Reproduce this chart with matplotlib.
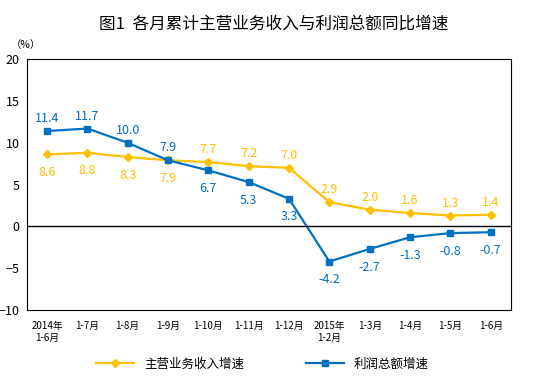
import matplotlib
matplotlib.use('Agg')
import matplotlib.pyplot as plt

plt.rcParams['font.family'] = ['Noto Sans CJK SC', 'DejaVu Sans']

# data
months = ['2014年\n1-6月', '1-7月', '1-8月', '1-9月', '1-10月', '1-11月', '1-12月',
          '2015年\n1-2月', '1-3月', '1-4月', '1-5月', '1-6月']
revenue = [8.6, 8.8, 8.3, 7.9, 7.7, 7.2, 7.0, 2.9, 2.0, 1.6, 1.3, 1.4]
profit = [11.4, 11.7, 10.0, 7.9, 6.7, 5.3, 3.3, -4.2, -2.7, -1.3, -0.8, -0.7]
rev_above = [False, False, False, False, True, True, True, True, True, True, True, True]
prof_above = [True, True, True, True, False, False, False, False, False, False, False, False]

yellow = '#FFC000'
blue = '#0070C0'

fig = plt.figure(figsize=(5.47, 3.79), dpi=100)
ax = fig.add_axes([0.049, 0.182, 0.885, 0.662])

x = list(range(len(months)))
ax.plot(x, revenue, color=yellow, lw=1.6, marker='D', ms=4.5, label='主营业务收入增速')
ax.plot(x, profit, color=blue, lw=1.6, marker='s', ms=4.5, label='利润总额增速')

for i in x:
    off = 9 if rev_above[i] else -13
    ax.annotate(f'{revenue[i]:.1f}', (i, revenue[i]), xytext=(0, off), textcoords='offset points',
                ha='center', va='center', color=yellow, fontsize=9)
    off = 9 if prof_above[i] else -13
    ax.annotate(f'{profit[i]:.1f}', (i, profit[i]), xytext=(0, off), textcoords='offset points',
                ha='center', va='center', color=blue, fontsize=9)

ax.axhline(0, color='black', lw=1)
ax.set_xlim(-0.5, len(months) - 0.5)
ax.set_ylim(-10, 20)
ax.set_yticks(range(-10, 21, 5))
ax.set_xticks(x)
ax.set_xticklabels(months, fontsize=7)
ax.tick_params(axis='both', length=0)
ax.tick_params(axis='x', pad=8)
ax.tick_params(axis='y', labelsize=9, pad=5)
for s in ax.spines.values():
    s.set_linewidth(0.8)

fig.text(0.5, 0.935, '图1  各月累计主营业务收入与利润总额同比增速', ha='center', va='center',
         fontsize=12)
fig.text(0.02, 0.88, '（%）', ha='left', va='center', fontsize=7.5)

fig.legend(loc='center', bbox_to_anchor=(0.48, 0.04), ncol=2, frameon=False, fontsize=9,
           columnspacing=5, handlelength=3)

fig.savefig('out.png', dpi=100)
